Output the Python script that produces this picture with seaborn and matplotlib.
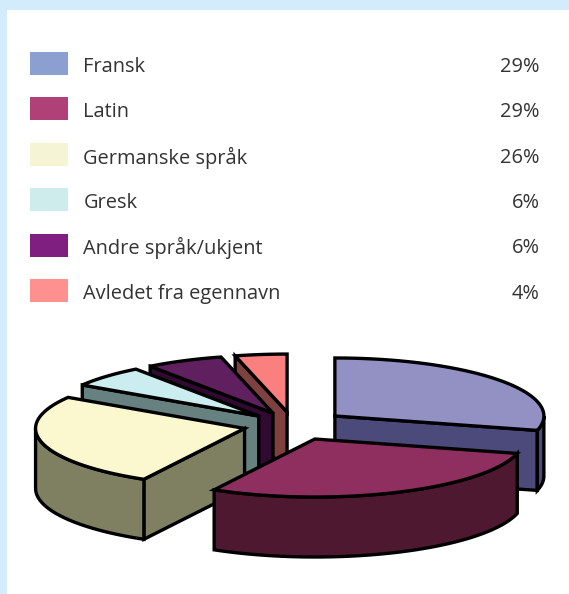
import numpy as np
import pandas as pd
import matplotlib
matplotlib.use("Agg")
import matplotlib.pyplot as plt
from matplotlib.patches import Polygon
import seaborn as sns

# Opprinnelse til ord, andel i prosent
languages = ["Fransk", "Latin", "Germanske språk", "Gresk", "Andre språk/ukjent", "Avledet fra egennavn"]
shares = [29, 29, 26, 6, 6, 4]

legend_colors = ["#8C9FD1", "#B04078", "#F5F5D5", "#CEECEC", "#7F1F7F", "#FF9090"]
top_colors = ["#9390C4", "#8F2F5F", "#FBF8CF", "#CCEDF0", "#602060", "#FA8080"]
side_colors = ["#4B4A7B", "#4D1830", "#7F7F62", "#678080", "#300A30", "#7F4040"]
explode = [53, 55, 50, 47, 47, 47]
draw_order = [0, 5, 4, 3, 2, 1]

W, H = 569, 594
FRAME = "#D3ECFB"
TEXT = "#333333"
CX, CY = 293, 425
RX, RY, DEPTH = 209, 58, 60

sns.set_theme(style="white")
plt.rcParams["font.family"] = ["Open Sans", "DejaVu Sans"]

fig = plt.figure(figsize=(W / 100, H / 100), dpi=100, facecolor=FRAME)


def axes_px(left, top, right, bottom):
    return fig.add_axes([left / W, 1 - bottom / H, (right - left) / W, (bottom - top) / H])


# White page inside the pale blue frame
page = axes_px(7, 10, W, H)
page.set_facecolor("white")
page.set_xticks([])
page.set_yticks([])
sns.despine(ax=page, left=True, bottom=True)

# Legend swatches as one horizontal bar per language
frame = pd.DataFrame({"language": languages, "swatch": 1})
swatch_ax = axes_px(30, 40.8, 68, 313.2)
sns.barplot(
    data=frame, y="language", x="swatch", hue="language", palette=legend_colors,
    width=0.507, dodge=False, legend=False, saturation=1, linewidth=0, ax=swatch_ax,
)
swatch_ax.set_xlim(0, 1)
swatch_ax.axis("off")

# Full-figure pixel axes for the legend text and the exploded pie
ax = fig.add_axes([0, 0, 1, 1], facecolor="none")
ax.set_xlim(0, W)
ax.set_ylim(H, 0)
ax.axis("off")

row_y = 66.8 + 45.4 * np.arange(len(languages))
for y, name, share in zip(row_y, languages, shares):
    ax.text(83.5, y, name, color=TEXT, fontsize=14.4, va="center", ha="left")
    ax.text(539.5, y, f"{share}%", color=TEXT, fontsize=14.4, va="center", ha="right")

# Slice angles run clockwise from twelve o'clock
ends = np.cumsum(shares) / sum(shares) * 2 * np.pi
starts = np.concatenate([[0], ends[:-1]])
EDGE = dict(edgecolor="black", linewidth=2.4, joinstyle="miter")


def rim(ox, oy, t):
    return np.column_stack([ox + RX * np.sin(t), oy - RY * np.cos(t)])


for i in draw_order:
    a, b = starts[i], ends[i]
    mid = (a + b) / 2
    ox = CX + explode[i] * np.sin(mid)
    oy = CY - explode[i] * (RY / RX) * np.cos(mid)
    apex = np.array([ox, oy])
    down = np.array([0, DEPTH])

    # Radial cut faces turned towards the viewer
    for angle, normal in ((a, a - np.pi / 2), (b, b + np.pi / 2)):
        if np.cos(normal) < -1e-6:
            p = rim(ox, oy, np.array([angle]))[0]
            ax.add_patch(Polygon([apex, p, p + down, apex + down], facecolor=side_colors[i], **EDGE))

    # Outer wall on the front half of the rim
    lo, hi = max(a, np.pi / 2), min(b, 3 * np.pi / 2)
    if hi > lo:
        arc = rim(ox, oy, np.linspace(lo, hi, 60))
        wall = np.vstack([arc, (arc + down)[::-1]])
        ax.add_patch(Polygon(wall, facecolor=side_colors[i], **EDGE))

    # Top face
    top = np.vstack([apex, rim(ox, oy, np.linspace(a, b, 120))])
    ax.add_patch(Polygon(top, facecolor=top_colors[i], **EDGE))

fig.savefig("out.png", dpi=100, facecolor=FRAME)
